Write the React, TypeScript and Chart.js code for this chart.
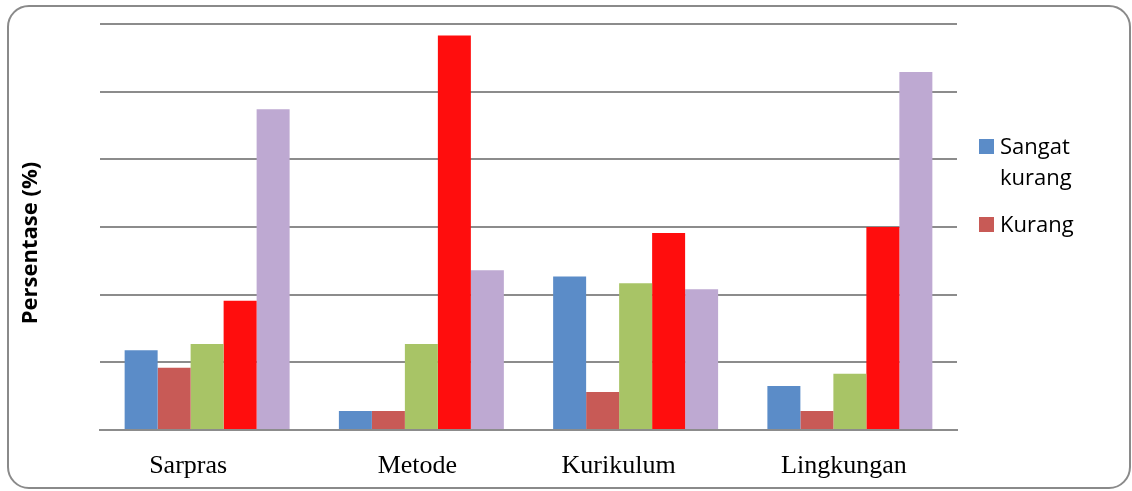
import React, { useEffect, useRef } from "react";
import { Chart, registerables } from "chart.js";

Chart.register(...registerables);

const categories = ["Sarpras", "Metode", "Kurikulum", "Lingkungan"];
const seriesLabels = ["Sangat kurang", "Kurang", "Cukup", "Baik", "Sangat baik"];
const sangatKurang = [11.8, 2.8, 22.7, 6.5];
const kurang = [9.2, 2.8, 5.6, 2.8];
const cukup = [12.7, 12.7, 21.7, 8.3];
const baik = [19.1, 58.3, 29.1, 30.0];
const sangatBaik = [47.4, 23.6, 20.8, 52.9];
const seriesValues = [sangatKurang, kurang, cukup, baik, sangatBaik];
const seriesColors = ["#5B8CC8", "#C85A56", "#A8C466", "#FF0D0D", "#BEA9D2"];
const legendShown = 2;
const yTitle = "Persentase (%)";
const yMax = 60;
const yStep = 10;

// horizontal shift of each category label from its group centre (style)
const labelShift = [-19, -4, -17, -6];

const yTitlePlugin = {
  id: "yTitlePlugin",
  afterDraw(chart: any) {
    const ctx = chart.ctx;
    ctx.save();
    ctx.translate(31, 243);
    ctx.rotate(-Math.PI / 2);
    ctx.font = "bold 22px 'Open Sans'";
    ctx.fillStyle = "#000";
    ctx.textAlign = "center";
    ctx.textBaseline = "middle";
    ctx.fillText(yTitle, 0, 0);
    ctx.restore();
  },
};

const xLabelPlugin = {
  id: "xLabelPlugin",
  afterDraw(chart: any) {
    const ctx = chart.ctx;
    const xs = chart.scales.x;
    ctx.save();
    ctx.font = "26px 'Liberation Serif'";
    ctx.fillStyle = "#000";
    ctx.textAlign = "center";
    ctx.textBaseline = "alphabetic";
    categories.forEach((c, i) => {
      ctx.fillText(c, xs.getPixelForValue(i) + labelShift[i], 473);
    });
    ctx.restore();
  },
};

export default function App() {
  const ref = useRef<HTMLCanvasElement | null>(null);

  useEffect(() => {
    if (!ref.current) return;
    const chart = new Chart(ref.current, {
      type: "bar",
      data: {
        labels: categories,
        datasets: seriesLabels.map((label, i) => ({
          label,
          data: seriesValues[i],
          backgroundColor: seriesColors[i],
          borderWidth: 0,
          categoryPercentage: 0.77,
          barPercentage: 1,
        })),
      },
      options: {
        animation: false,
        responsive: false,
        maintainAspectRatio: false,
        layout: { padding: { left: 100, right: 175, top: 24, bottom: 0 } },
        plugins: {
          legend: { display: false },
          tooltip: { enabled: false },
        },
        scales: {
          x: {
            grid: { display: false, drawTicks: false },
            border: { display: true, color: "#8c8c8c", width: 2 },
            ticks: { display: false },
            afterFit: (s: any) => {
              s.height = 61;
            },
          },
          y: {
            min: 0,
            max: yMax,
            ticks: { display: false, stepSize: yStep },
            grid: { color: "#8c8c8c", lineWidth: 2, drawTicks: false },
            border: { display: false },
            afterFit: (s: any) => {
              s.width = 0;
            },
          },
        },
      },
      plugins: [yTitlePlugin, xLabelPlugin],
    });
    return () => chart.destroy();
  }, []);

  const legendItems = seriesLabels.slice(0, legendShown);
  const legendTops = [139, 217];

  return (
    <div
      style={{
        position: "fixed",
        left: 0,
        top: 0,
        width: 1132,
        height: 491,
        background: "#fff",
        overflow: "hidden",
      }}
    >
      <div
        style={{
          position: "absolute",
          left: 7,
          top: 5,
          width: 1124,
          height: 484,
          border: "2px solid #8a8a8a",
          borderRadius: 22,
          boxSizing: "border-box",
        }}
      />
      <canvas
        ref={ref}
        width={1132}
        height={491}
        style={{ position: "absolute", left: 0, top: 0, width: 1132, height: 491 }}
      />
      {legendItems.map((label, i) => (
        <div
          key={label}
          style={{
            position: "absolute",
            left: 979,
            top: legendTops[i],
            display: "flex",
            alignItems: "flex-start",
          }}
        >
          <div
            style={{
              width: 15,
              height: 15,
              background: seriesColors[i],
              marginRight: 6,
              flex: "none",
            }}
          />
          <div
            style={{
              fontFamily: "'Open Sans'",
              fontSize: 22,
              lineHeight: "31px",
              marginTop: -9,
              width: 100,
              color: "#000",
            }}
          >
            {label}
          </div>
        </div>
      ))}
    </div>
  );
}
